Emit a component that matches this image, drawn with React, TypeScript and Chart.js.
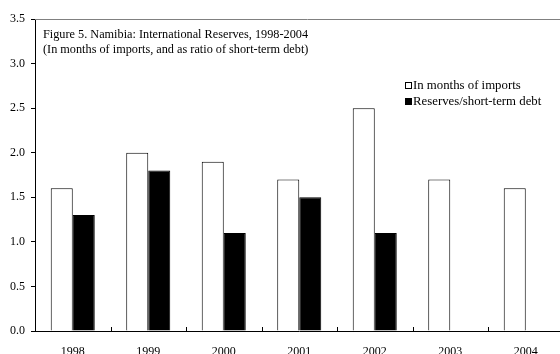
import { useEffect, useRef } from "react";
import { Chart, registerables } from "chart.js";

Chart.register(...registerables);

// Namibia: international reserves, 1998-2004
const years = ["1998", "1999", "2000", "2001", "2002", "2003", "2004"];
const monthsOfImports = [1.6, 2.0, 1.9, 1.7, 2.5, 1.7, 1.6];
const reservesToShortTermDebt: (number | null)[] = [1.3, 1.8, 1.1, 1.5, 1.1, null, null];
const seriesLabels = ["In months of imports", "Reserves/short-term debt"];
const titleLines = [
  "Figure 5. Namibia: International Reserves, 1998-2004",
  "(In months of imports, and as ratio of short-term debt)",
];
const yMax = 3.5;
const yStep = 0.5;

const FONT = '"Liberation Serif", "Times New Roman", serif';
const W = 580;
const H = 370;

// Frame line on top, inward tick marks between categories, caption and legend inside the plot
const decorPlugin = {
  id: "decor",
  afterDraw(chart: any) {
    const { ctx, chartArea: a, scales } = chart;
    ctx.save();
    ctx.lineWidth = 1;
    ctx.strokeStyle = "#808080";
    ctx.beginPath();
    ctx.moveTo(a.left, Math.round(a.top) + 0.5);
    ctx.lineTo(W, Math.round(a.top) + 0.5);
    ctx.stroke();

    const xs = scales.x;
    ctx.strokeStyle = "#000";
    ctx.beginPath();
    for (let i = 1; i <= years.length; i++) {
      const px = Math.round(xs.getPixelForValue(i - 0.5)) + 0.5;
      ctx.moveTo(px, a.bottom);
      ctx.lineTo(px, a.bottom - 4);
    }
    ctx.stroke();

    ctx.fillStyle = "#000";
    ctx.font = `12.25px ${FONT}`;
    ctx.textBaseline = "alphabetic";
    ctx.textAlign = "left";
    titleLines.forEach((t, i) => ctx.fillText(t, a.left + 8, 38 + i * 15));

    // legend
    const lx = 405;
    ctx.font = `12.8px ${FONT}`;
    chart.data.datasets.forEach((ds: any, i: number) => {
      const y = 82 + i * 16;
      ctx.fillStyle = ds.backgroundColor;
      ctx.fillRect(lx, y, 7, 7);
      ctx.strokeStyle = "#000";
      ctx.strokeRect(lx + 0.5, y + 0.5, 6, 6);
      ctx.fillStyle = "#000";
      ctx.fillText(ds.label, lx + 8, y + 6.5);
    });
    ctx.restore();
  },
};

export default function App() {
  const ref = useRef<HTMLCanvasElement>(null);

  useEffect(() => {
    if (!ref.current) return;
    const chart = new Chart(ref.current, {
      type: "bar",
      data: {
        labels: years,
        datasets: [
          {
            label: seriesLabels[0],
            data: monthsOfImports,
            backgroundColor: "#ffffff",
            borderColor: "#000000",
            borderWidth: 1,
          },
          {
            label: seriesLabels[1],
            data: reservesToShortTermDebt,
            backgroundColor: "#000000",
            borderColor: "#000000",
            borderWidth: 1,
          },
        ],
      },
      options: {
        animation: false,
        responsive: false,
        devicePixelRatio: 1,
        layout: { padding: { top: 19, left: 0, right: W - 563.5, bottom: 0 } },
        datasets: { bar: { categoryPercentage: 0.583, barPercentage: 1 } },
        plugins: {
          legend: { display: false },
          tooltip: { enabled: false },
          title: { display: false },
        },
        scales: {
          x: {
            afterFit: (s: any) => {
              s.height = H - 331;
            },
            grid: { display: false, drawTicks: false },
            border: { display: true, color: "#000", width: 1 },
            ticks: { color: "#000", padding: 14, font: { family: FONT, size: 12 } },
          },
          y: {
            min: 0,
            max: yMax,
            afterFit: (s: any) => {
              s.width = 35;
            },
            grid: { drawOnChartArea: false, drawTicks: true, tickLength: 4, color: "#000" },
            border: { display: true, color: "#000", width: 1 },
            ticks: {
              stepSize: yStep,
              padding: 6,
              color: "#000",
              font: { family: FONT, size: 12 },
              callback: (v: any) => Number(v).toFixed(1),
            },
          },
        },
      },
      plugins: [decorPlugin],
    });
    return () => chart.destroy();
  }, []);

  return (
    <div
      style={{
        position: "fixed",
        left: 0,
        top: 0,
        width: 560,
        height: 354,
        overflow: "hidden",
        background: "#fff",
      }}
    >
      <canvas ref={ref} width={W} height={H} style={{ width: W, height: H, display: "block" }} />
    </div>
  );
}
